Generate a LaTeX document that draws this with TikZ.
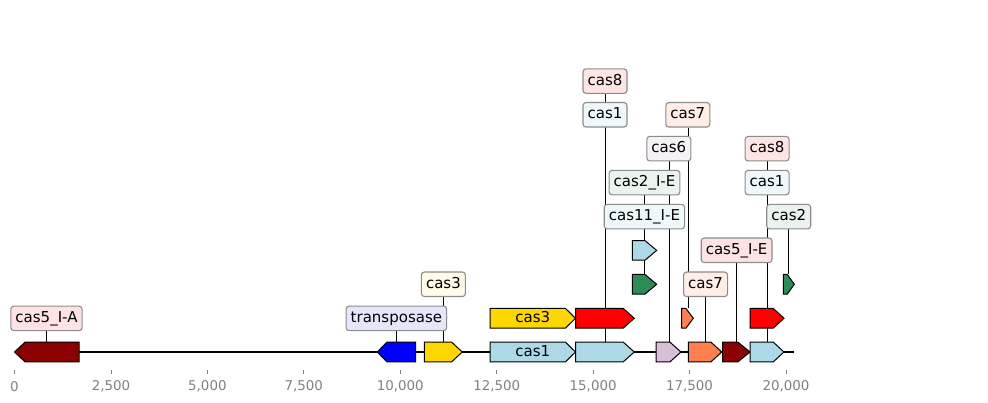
\documentclass[tikz,border=0pt]{standalone}
\usepackage{fontspec}
\setmainfont{DejaVu Sans}
\usetikzlibrary{backgrounds}
\definecolor{cdarkred}{HTML}{8B0000}
\definecolor{cblue}{HTML}{0000FF}
\definecolor{cgold}{HTML}{FFD700}
\definecolor{clblue}{HTML}{ADD8E6}
\definecolor{cred}{HTML}{FF0000}
\definecolor{csgreen}{HTML}{2E8B57}
\definecolor{cthistle}{HTML}{D8BFD8}
\definecolor{ccoral}{HTML}{FF7F50}
\definecolor{labgrey}{HTML}{8C8C8C}
\definecolor{tickgrey}{HTML}{808080}
\definecolor{bxred}{HTML}{FFE4E4}
\definecolor{bxdarkred}{HTML}{FDE3E3}
\definecolor{bxblue}{HTML}{E6E6FA}
\definecolor{bxgold}{HTML}{FFFBE6}
\definecolor{bxlblue}{HTML}{EEF7FA}
\definecolor{bxsgreen}{HTML}{EAF3ED}
\definecolor{bxthistle}{HTML}{F6F1F6}
\definecolor{bxcoral}{HTML}{FFEDE6}
\newcommand{\gfwd}[6]{%
  \filldraw[gene, fill=#6] (#2,#4-9.8) -- (#3-#5,#4-9.8) -- (#3,#4) -- (#3-#5,#4+9.8) -- (#2,#4+9.8) -- cycle;
  \coordinate (#1) at ({(#2+#3)/2},{#4-9.8});
}
\newcommand{\grev}[6]{%
  \filldraw[gene, fill=#6] (#3,#4-9.8) -- (#2+#5,#4-9.8) -- (#2,#4) -- (#2+#5,#4+9.8) -- (#3,#4+9.8) -- cycle;
  \coordinate (#1) at ({(#2+#3)/2},{#4-9.8});
}
\begin{document}
\begin{tikzpicture}[x=1pt,y=-1pt,
  gene/.style={draw=black, line width=1pt},
  lab/.style={draw=labgrey, rounded corners=3pt, line width=1.1pt, inner xsep=4.6pt, inner ysep=0pt,
    minimum height=24.5pt, text height=11pt, text depth=2.6pt, font=\fontsize{15}{17}\selectfont},
  intext/.style={inner sep=0pt, text height=11pt, text depth=2.6pt, font=\fontsize{15}{17}\selectfont},
  conn/.style={draw=black, line width=0.6pt},
  axisline/.style={draw=black, line width=1.8pt},
  tickmark/.style={draw=tickgrey, line width=0.8pt},
  ticklab/.style={text=tickgrey, inner sep=0pt, font=\fontsize{13.4}{15}\selectfont}]
\useasboundingbox (0,0) rectangle (988,403);

% axis coordinates
\coordinate (ax0) at (15,352);
\coordinate (ax1) at (794.3,352);

% ticks
\foreach \i/\t in {0/0,1/{2,500},2/{5,000},3/{7,500},4/{10,000},5/{12,500},6/{15,000},7/{17,500},8/{20,000}}{
  \coordinate (tk\i) at ({14.5+\i*96.44},369.5);
  \draw[tickmark] (tk\i) -- ++(0,4);
  \node[ticklab] (tl\i) at ({14.5+\i*96.44},386.5) {\t};
}

% genes
\grev{fA}{14.5}{79}{352}{10.5}{cdarkred}
\grev{fTr}{377.3}{415.7}{352}{9.5}{cblue}
\gfwd{fG1}{424.3}{462.3}{352}{10.6}{cgold}
\gfwd{fC1}{490}{575.5}{352}{10}{clblue}
\gfwd{fC3}{490}{575.5}{318.3}{10}{cgold}
\gfwd{fR1}{575.7}{634.3}{318.3}{11}{cred}
\gfwd{fB1}{575.7}{634.3}{352}{11}{clblue}
\gfwd{fB2}{632.3}{656.7}{250.4}{11.7}{clblue}
\gfwd{fS1}{632.3}{656.7}{284.3}{11.7}{csgreen}
\gfwd{fT}{656}{681}{352}{11}{cthistle}
\gfwd{fK1}{681.7}{693.3}{318.3}{7.3}{ccoral}
\gfwd{fK2}{688.3}{721.7}{352}{10.7}{ccoral}
\gfwd{fD}{722.5}{750}{352}{12}{cdarkred}
\gfwd{fB3}{750}{784}{352}{10.7}{clblue}
\gfwd{fR2}{750}{784}{318.3}{10.7}{cred}
\gfwd{fS2}{783.3}{794.3}{284.3}{7}{csgreen}

\node[intext] (tC1) at (532.7,352) {cas1};
\node[intext] (tC3) at (532.7,318.3) {cas3};

% labels
\node[lab, fill=bxdarkred] (lA) at (46.5,318.4) {cas5\_I-A};
\node[lab, fill=bxblue] (lTr) at (396.4,318.4) {transposase};
\node[lab, fill=bxgold] (lG1) at (443.4,284.3) {cas3};
\node[lab, fill=bxred] (lR1) at (605,81.1) {cas8};
\node[lab, fill=bxlblue] (lB1) at (605,114.8) {cas1};
\node[lab, fill=bxcoral] (lK1) at (687.8,114.8) {cas7};
\node[lab, fill=bxthistle] (lT) at (668.8,148.7) {cas6};
\node[lab, fill=bxsgreen] (lS1) at (644.5,182.6) {cas2\_I-E};
\node[lab, fill=bxlblue] (lB2) at (644.4,216.6) {cas11\_I-E};
\node[lab, fill=bxcoral] (lK2) at (705.6,284.3) {cas7};
\node[lab, fill=bxdarkred] (lD) at (736.6,250.3) {cas5\_I-E};
\node[lab, fill=bxred] (lR2) at (767.1,148.7) {cas8};
\node[lab, fill=bxlblue] (lB3) at (767.1,182.6) {cas1};
\node[lab, fill=bxsgreen] (lS2) at (788.7,216.6) {cas2};

\begin{pgfonlayer}{background}
  \draw[axisline] (ax0) -- (ax1);
  \draw[conn] (lA) -- (lA |- fA);
  \draw[conn] (lTr) -- (lTr |- fTr);
  \draw[conn] (lG1) -- (lG1 |- fG1);
  \draw[conn] (lR1) -- (lR1 |- fR1);
  \draw[conn] (lB1) -- (lB1 |- fB1);
  \draw[conn] (lK1) -- (lK1 |- fK1);
  \draw[conn] (lT) -- (lT |- fT);
  \draw[conn] (lS1) -- (lS1 |- fS1);
  \draw[conn] (lB2) -- (lB2 |- fB2);
  \draw[conn] (lK2) -- (lK2 |- fK2);
  \draw[conn] (lD) -- (lD |- fD);
  \draw[conn] (lR2) -- (lR2 |- fR2);
  \draw[conn] (lB3) -- (lB3 |- fB3);
  \draw[conn] (lS2) -- (lS2 |- fS2);
\end{pgfonlayer}
\end{tikzpicture}
\end{document}
